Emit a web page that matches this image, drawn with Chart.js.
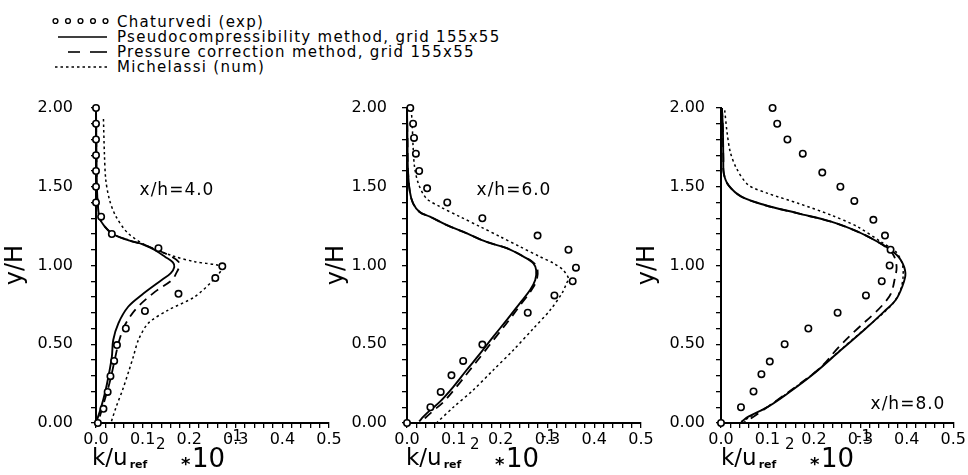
<!DOCTYPE html>
<html>
<head>
<meta charset="utf-8">
<script src="https://cdn.jsdelivr.net/npm/chart.js@4.4.1/dist/chart.umd.min.js"></script>
<style>
  html, body { margin: 0; padding: 0; background: #fff; }
  #wrap { position: relative; width: 968px; height: 475px; overflow: hidden; background: #fff; }
  canvas.panel { position: absolute; left: 0; top: 0; }
  .row { position: absolute; left: 0; height: 16px; white-space: nowrap;
         font-family: 'DejaVu Sans', sans-serif; font-size: 15px; letter-spacing: 1.3px; color: #000; }
  .row svg { position: absolute; left: 50px; top: 1px; }
  .row span { position: absolute; left: 117px; top: 0; line-height: 16px; }
</style>
</head>
<body>
<div id="wrap">
  <div id="legend"></div>
  <canvas class="panel" id="c4" width="968" height="475"></canvas>
  <canvas class="panel" id="c6" width="968" height="475"></canvas>
  <canvas class="panel" id="c8" width="968" height="475"></canvas>
</div>
<script>
// Series names shown in the key
const seriesNames = [
  'Chaturvedi (exp)',
  'Pseudocompressibility method, grid 155x55',
  'Pressure correction method, grid 155x55',
  'Michelassi (num)'
];
// Station labels, one per panel
const stations = ['x/h=4.0', 'x/h=6.0', 'x/h=8.0'];

// Axis ticks
const kTickStep = 0.02;   // k axis, labelled every 0.1
const yTickStep = 0.1;    // y/H axis, labelled every 0.5

// ---- x/h = 4.0 : points are [k/u_ref^2 * 10^-1, y/H] ----
const exp4 = [[0,2.0],[0,1.9],[0,1.8],[0,1.7],[0,1.6],[0,1.5],[0,1.4],[0.011,1.31],[0.034,1.2],
  [0.134,1.11],[0.271,0.995],[0.256,0.92],[0.177,0.82],[0.105,0.711],[0.064,0.6],[0.045,0.495],
  [0.039,0.394],[0.031,0.297],[0.025,0.197],[0.016,0.09],[0.004,0.0]];
const pseudo4 = [[0,2.0],[0.001,1.7],[0.002,1.5],[0.004,1.38],[0.008,1.3],[0.018,1.25],[0.036,1.2],
  [0.07,1.16],[0.1,1.135],[0.125,1.1],[0.148,1.056],[0.165,1.02],[0.168,0.99],[0.16,0.95],
  [0.141,0.908],[0.098,0.813],[0.069,0.738],[0.048,0.633],[0.037,0.527],[0.034,0.42],
  [0.027,0.3],[0.02,0.2],[0.011,0.1],[0.0,0.0]];
const pressure4 = [[0,2.0],[0.001,1.7],[0.002,1.5],[0.004,1.38],[0.008,1.3],[0.018,1.25],[0.036,1.2],
  [0.07,1.16],[0.1,1.135],[0.13,1.1],[0.16,1.06],[0.177,1.024],[0.178,0.99],[0.172,0.95],
  [0.163,0.908],[0.127,0.834],[0.087,0.728],[0.062,0.622],[0.05,0.526],[0.043,0.44],
  [0.032,0.29],[0.025,0.21],[0.014,0.1],[0.004,0.0]];
const michelassi4 = [[0.016,1.93],[0.018,1.714],[0.021,1.544],[0.029,1.417],[0.043,1.31],
  [0.069,1.204],[0.112,1.12],[0.17,1.056],[0.212,1.024],[0.27,0.99],[0.255,0.919],[0.212,0.802],
  [0.155,0.717],[0.112,0.633],[0.091,0.527],[0.08,0.42],[0.071,0.335],[0.057,0.21],[0.043,0.1],
  [0.032,0.0]];

// ---- x/h = 6.0 ----
const exp6 = [[0.007,2.0],[0.013,1.9],[0.015,1.81],[0.019,1.71],[0.026,1.6],[0.043,1.49],[0.086,1.4],
  [0.161,1.3],[0.279,1.19],[0.345,1.1],[0.361,0.986],[0.354,0.9],[0.315,0.81],[0.258,0.7],
  [0.161,0.498],[0.12,0.394],[0.095,0.303],[0.072,0.197],[0.05,0.1],[0.0,0.0]];
const pseudo6 = [[0,2.0],[0.001,1.8],[0.002,1.61],[0.006,1.47],[0.013,1.395],[0.027,1.34],[0.049,1.31],
  [0.084,1.258],[0.127,1.205],[0.17,1.15],[0.213,1.11],[0.249,1.056],[0.27,1.014],[0.276,0.97],
  [0.274,0.908],[0.263,0.844],[0.241,0.76],[0.213,0.653],[0.184,0.547],[0.156,0.44],[0.127,0.335],
  [0.099,0.23],[0.07,0.134],[0.049,0.08],[0.035,0.04],[0.026,0.01]];
const pressure6 = [[0,2.0],[0.001,1.8],[0.002,1.61],[0.006,1.47],[0.013,1.395],[0.027,1.34],[0.049,1.31],
  [0.084,1.258],[0.127,1.205],[0.17,1.15],[0.213,1.11],[0.25,1.056],[0.272,1.014],[0.279,0.97],
  [0.277,0.908],[0.266,0.844],[0.245,0.76],[0.218,0.653],[0.19,0.547],[0.162,0.44],[0.134,0.335],
  [0.106,0.23],[0.078,0.134],[0.057,0.08],[0.04,0.035],[0.03,0.005]];
const michelassi6 = [[0.009,1.99],[0.011,1.905],[0.013,1.756],[0.016,1.629],[0.024,1.523],[0.041,1.427],
  [0.07,1.374],[0.113,1.31],[0.156,1.247],[0.199,1.183],[0.241,1.12],[0.284,1.056],[0.313,1.014],
  [0.334,0.97],[0.345,0.918],[0.341,0.887],[0.331,0.823],[0.306,0.717],[0.27,0.6],[0.227,0.462],
  [0.184,0.335],[0.141,0.208],[0.099,0.1],[0.063,0.0]];

// ---- x/h = 8.0 ----
const exp8 = [[0.111,2.0],[0.121,1.9],[0.143,1.8],[0.176,1.71],[0.218,1.59],[0.257,1.5],[0.287,1.41],
  [0.328,1.29],[0.353,1.19],[0.365,1.1],[0.363,1.0],[0.346,0.9],[0.312,0.81],[0.251,0.7],
  [0.188,0.6],[0.137,0.5],[0.105,0.39],[0.087,0.31],[0.07,0.2],[0.043,0.1],[0.0,0.0]];
const pseudo8 = [[0.002,2.0],[0.004,1.87],[0.005,1.68],[0.006,1.585],[0.016,1.51],[0.044,1.437],
  [0.094,1.384],[0.166,1.331],[0.237,1.278],[0.294,1.215],[0.337,1.151],[0.366,1.098],[0.387,1.035],
  [0.397,0.95],[0.39,0.865],[0.376,0.781],[0.351,0.707],[0.308,0.59],[0.258,0.463],[0.201,0.316],
  [0.144,0.189],[0.101,0.103],[0.059,0.04],[0.044,0.008]];
const pressure8 = [[0.002,2.0],[0.004,1.87],[0.005,1.68],[0.006,1.585],[0.016,1.51],[0.044,1.437],
  [0.094,1.384],[0.166,1.331],[0.237,1.278],[0.294,1.215],[0.337,1.151],[0.362,1.1],[0.373,1.056],
  [0.378,0.99],[0.375,0.93],[0.366,0.823],[0.351,0.76],[0.33,0.696],[0.287,0.58],[0.251,0.474],
  [0.216,0.357],[0.17,0.25],[0.128,0.16],[0.09,0.08],[0.065,0.03],[0.05,0.005]];
const michelassi8 = [[0.008,1.985],[0.013,1.847],[0.02,1.72],[0.034,1.613],[0.059,1.511],[0.101,1.458],
  [0.166,1.395],[0.237,1.32],[0.294,1.246],[0.344,1.151],[0.376,1.088],[0.39,1.014],[0.392,0.93],
  [0.387,0.85],[0.373,0.77],[0.35,0.7],[0.307,0.59],[0.257,0.463],[0.2,0.316],[0.143,0.189],
  [0.1,0.103],[0.06,0.035],[0.04,0.0]];

const FONT = "'DejaVu Sans', sans-serif";

// Key in the top-left corner
(function buildKey() {
  const key = document.getElementById('legend');
  const rows = [
    { top: 14, svg: '<circle cx="5.5" cy="6" r="2.4"/><circle cx="18" cy="6" r="2.4"/><circle cx="30.5" cy="6" r="2.4"/><circle cx="43" cy="6" r="2.4"/><circle cx="55.5" cy="6" r="2.4"/>', style: 'fill="none" stroke="#000" stroke-width="1.4"' },
    { top: 29, svg: '<line x1="8" y1="7" x2="57" y2="7"/>', style: 'stroke="#000" stroke-width="1.6"' },
    { top: 44, svg: '<line x1="18" y1="7" x2="30" y2="7"/><line x1="40" y1="7" x2="57" y2="7"/>', style: 'stroke="#000" stroke-width="1.6"' },
    { top: 59, svg: '<line x1="5" y1="7" x2="58" y2="7" stroke-dasharray="2.5 3"/>', style: 'stroke="#000" stroke-width="1.4"' }
  ];
  rows.forEach((r, i) => {
    const d = document.createElement('div');
    d.className = 'row';
    d.style.top = r.top + 'px';
    d.innerHTML = '<svg width="62" height="14" ' + r.style + '>' + r.svg + '</svg><span>' + seriesNames[i] + '</span>';
    key.appendChild(d);
  });
})();

// Extra texts per panel: rotated y title, composed k title, station label
function panelTexts(p) {
  return {
    id: 'panelTexts',
    afterDraw(chart) {
      const ctx = chart.ctx;
      const A = chart.chartArea.left;
      ctx.save();
      ctx.fillStyle = '#000';
      // y/H
      ctx.save();
      ctx.translate(A + p.yTitleDx, 265);
      ctx.rotate(-Math.PI / 2);
      ctx.font = '24px ' + FONT;
      ctx.textAlign = 'center';
      ctx.textBaseline = 'middle';
      ctx.fillText('y/H', 0, 0);
      ctx.restore();
      // k/u_ref^2 *10^-1
      ctx.textBaseline = 'alphabetic';
      ctx.textAlign = 'left';
      const x0 = A + p.kTitleDx;
      ctx.font = '23px ' + FONT;
      ctx.fillText('k/u', x0, 465);
      const w = ctx.measureText('k/u').width;
      ctx.font = 'bold 11px ' + FONT;
      ctx.fillText('ref', x0 + w + 2, 468);
      ctx.font = '15px ' + FONT;
      ctx.fillText('2', x0 + 64, 449);
      ctx.font = 'bold 18px ' + FONT;
      ctx.fillText('*', x0 + 89, 470);
      ctx.font = '26px ' + FONT;
      ctx.fillText('10', x0 + 100, 467);
      ctx.font = '15px ' + FONT;
      ctx.fillText('-1', x0 + 135, 441);
      // station label
      ctx.font = '17px ' + FONT;
      ctx.letterSpacing = '1px';
      ctx.textAlign = 'center';
      ctx.textBaseline = 'middle';
      ctx.fillText(p.station, p.noteX, p.noteY);
      ctx.restore();
    }
  };
}

const toPts = arr => arr.map(([k, y]) => ({ x: k, y: y }));

const panels = [
  { id: 'c4', left: 96,  right: 329, yTitleDx: -80, kTitleDx: -4, tickPad: 18, station: stations[0], noteX: 177, noteY: 191,
    exp: exp4, pseudo: pseudo4, pressure: pressure4, mich: michelassi4 },
  { id: 'c6', left: 407, right: 641, yTitleDx: -70, kTitleDx: -1, tickPad: 15, station: stations[1], noteX: 514, noteY: 191,
    exp: exp6, pseudo: pseudo6, pressure: pressure6, mich: michelassi6 },
  { id: 'c8', left: 721, right: 955, yTitleDx: -73, kTitleDx: 0, tickPad: 11, station: stations[2], noteX: 908, noteY: 405,
    exp: exp8, pseudo: pseudo8, pressure: pressure8, mich: michelassi8 }
];

const TOP = 108, BOTTOM = 423, YW = 70, XH = 30;

panels.forEach(p => {
  new Chart(document.getElementById(p.id), {
    type: 'scatter',
    data: {
      datasets: [
        { label: seriesNames[0], data: toPts(p.exp), showLine: false, pointRadius: 3.2, pointBorderWidth: 1.6,
          pointBackgroundColor: '#fff', pointBorderColor: '#000', order: 0, clip: false },
        { label: seriesNames[1], data: toPts(p.pseudo), showLine: true, borderColor: '#000', borderWidth: 1.9,
          pointRadius: 0, tension: 0.35, order: 1, clip: false },
        { label: seriesNames[2], data: toPts(p.pressure), showLine: true, borderColor: '#000', borderWidth: 1.8,
          borderDash: [9, 6], pointRadius: 0, tension: 0.35, order: 2, clip: false },
        { label: seriesNames[3], data: toPts(p.mich), showLine: true, borderColor: '#000', borderWidth: 1.5,
          borderDash: [2.5, 3], pointRadius: 0, tension: 0.3, order: 3, clip: false }
      ]
    },
    options: {
      responsive: false,
      animation: false,
      devicePixelRatio: 1,
      events: [],
      layout: { padding: { left: p.left - YW, right: 968 - p.right, top: TOP, bottom: 475 - BOTTOM - XH } },
      plugins: { legend: { display: false }, tooltip: { enabled: false } },
      scales: {
        x: {
          type: 'linear', min: 0, max: 0.5,
          afterFit(s) { s.height = XH; },
          border: { display: true, color: '#000', width: 2 },
          grid: { drawOnChartArea: false, drawTicks: true, tickLength: 5, color: '#000', lineWidth: 1.3 },
          ticks: {
            stepSize: kTickStep, autoSkip: false, maxRotation: 0, padding: 2, color: '#000',
            font: { family: FONT, size: 16 },
            callback(v) { const r = Math.round(v * 50); return r % 5 === 0 ? (r / 50).toFixed(1) : ''; }
          }
        },
        y: {
          type: 'linear', min: 0, max: 2,
          afterFit(s) { s.width = YW; },
          border: { display: true, color: '#000', width: 2 },
          grid: { drawOnChartArea: false, drawTicks: true, tickLength: 5, color: '#000', lineWidth: 1.3 },
          ticks: {
            stepSize: yTickStep, autoSkip: false, padding: p.tickPad, color: '#000',
            font: { family: FONT, size: 16 },
            callback(v) { const r = Math.round(v * 10); return r % 5 === 0 ? (r / 10).toFixed(2) : ''; }
          }
        }
      }
    },
    plugins: [panelTexts(p)]
  });
});
</script>
</body>
</html>
